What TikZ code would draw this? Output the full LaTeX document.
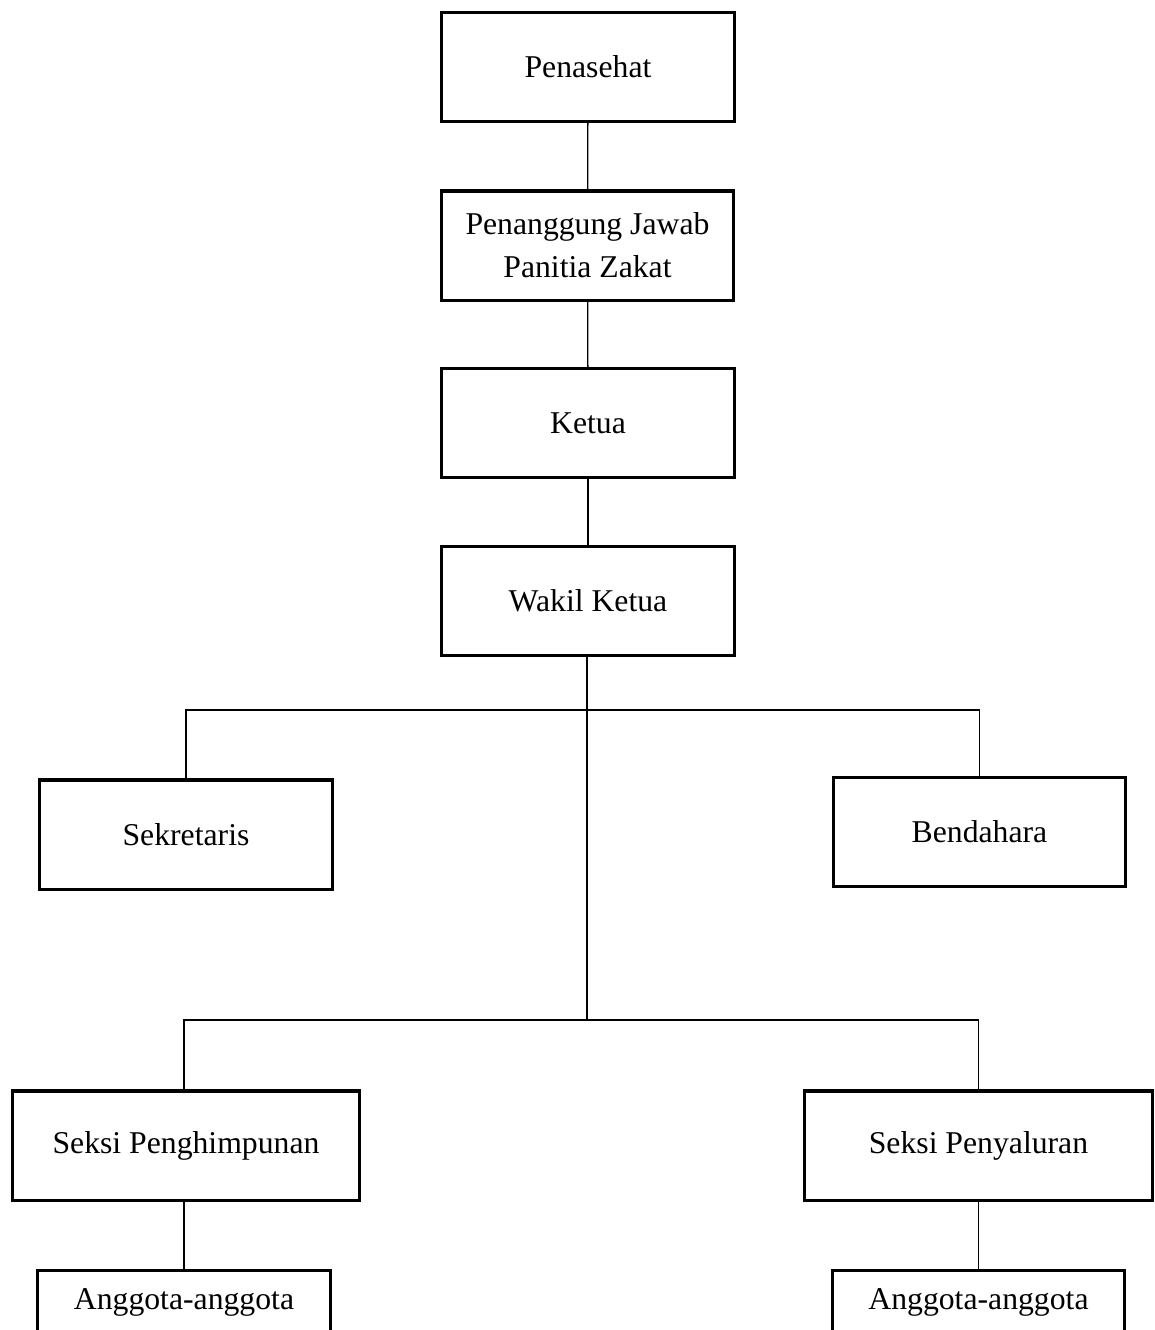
\documentclass[tikz,border=0pt]{standalone}
\usepackage{fontspec}
\setmainfont{Liberation Serif}
\usetikzlibrary{positioning,calc}
\definecolor{ink}{RGB}{0,0,0}
\tikzset{
  every picture/.style={color=ink, line width=0.5pt},
  box/.style={draw=ink, line width=1.15pt, fill=white, inner sep=2pt, minimum width=38.9mm, minimum height=14.5mm, align=center, font=\fontsize{12}{16.3}\selectfont},
  wide/.style={box, minimum width=46.2mm},
  member/.style={box, minimum height=8.4mm},
  link/.style={line width=0.5pt},
}

\begin{document}
\begin{tikzpicture}[x=0.133mm, y=-0.133mm]
  \useasboundingbox (0,0) rectangle (1154,1330);
  % top chain, one box under the other
  \node[box] (penasehat) at (588,67) {Penasehat};
  \node[box] (pj) at (587.5,245.5) {Penanggung Jawab\\ Panitia Zakat};
  \node[box] (ketua) at (588,423) {Ketua};
  \node[box] (wakil) at (588,601) {Wakil Ketua};
  \draw[link] (penasehat) -- (pj);
  \draw[link] (pj) -- (ketua);
  \draw[link] (ketua) -- (wakil);
  % staff row and sections, hung on the trunk
  \coordinate (bar1) at (587,710);
  \coordinate (bar2) at (587,1020);
  \node[box] (sekretaris) at (186,834.5) {Sekretaris};
  \node[box] (bendahara) at (979.5,832) {Bendahara};
  \node[wide] (himpun) at (186,1145.5) {Seksi Penghimpunan};
  \node[wide] (salur) at (978.5,1145.5) {Seksi Penyaluran};
  \node[member] (anggota1) at (184,1302) {Anggota-anggota};
  \node[member] (anggota2) at (978.5,1302) {Anggota-anggota};
  \draw[link] (wakil.south -| bar1) -- (bar2);
  \draw[link] (sekretaris.north) |- (bar1) -| (bendahara.north);
  \draw[link] (anggota1.north |- himpun.north) |- (bar2) -| (salur.north);
  \draw[link] (anggota1.north |- himpun.south) -- (anggota1.north);
  \draw[link] (salur) -- (anggota2);
\end{tikzpicture}
\end{document}
